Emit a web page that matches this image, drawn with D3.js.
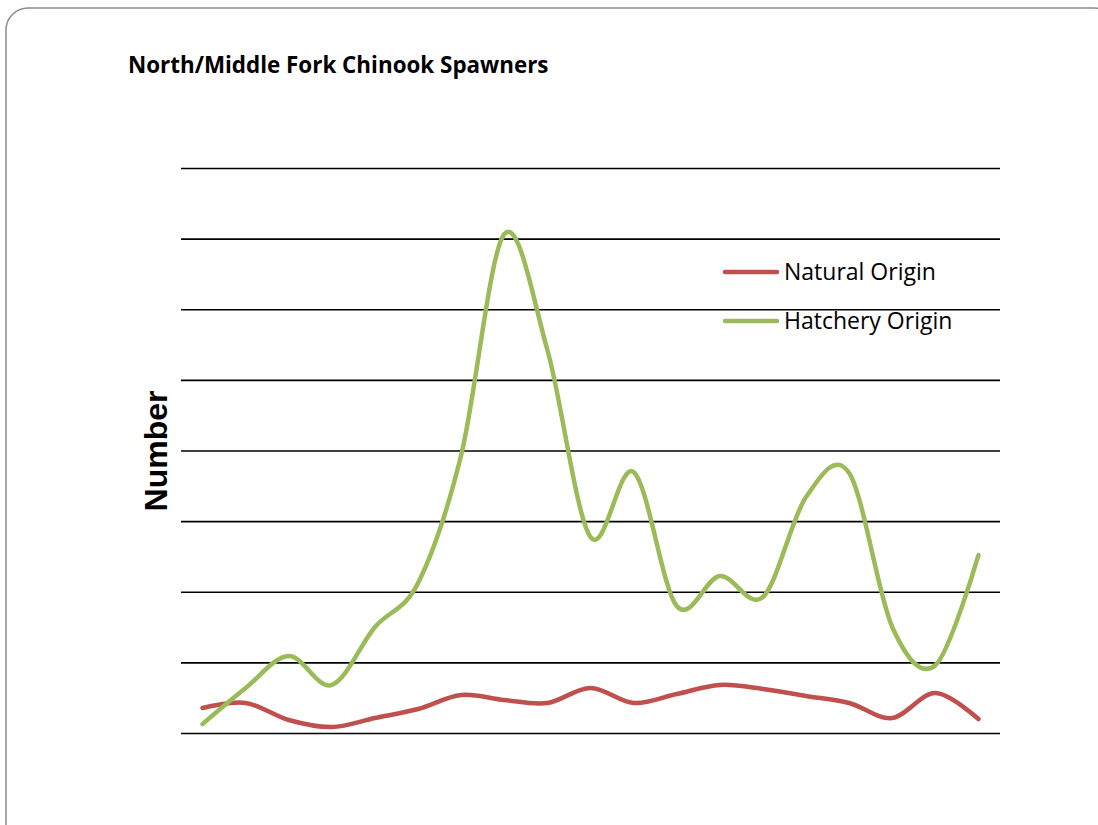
<!DOCTYPE html>
<html>
<head>
<meta charset="utf-8">
<script src="https://cdn.jsdelivr.net/npm/d3@7/dist/d3.min.js"></script>
<style>
  html, body { margin: 0; padding: 0; background: #fff; }
  svg { display: block; }
</style>
</head>
<body>
<svg id="chart" width="1098" height="825"></svg>
<script>
// ---- data (the original has no tick labels) ----
const categories = d3.range(1, 20).map(i => "P" + i);
const naturalOrigin = [354, 425, 184, 85, 212, 340, 538, 467, 425, 637, 425, 552, 680, 623, 524, 425, 212, 566, 198];
const hatcheryOrigin = [127, 637, 1090, 680, 1501, 2124, 3936, 7065, 5423, 2775, 3696, 1798, 2223, 1926, 3341, 3681, 1501, 960, 2520];
const yTicks = [0, 1000, 2000, 3000, 4000, 5000, 6000, 7000, 8000];
const seriesNames = ["Natural Origin", "Hatchery Origin"];
const seriesColors = ["#C0504D", "#9BBB59"];

const svg = d3.select("#chart");

// outer rounded frame
svg.append("rect")
  .attr("x", 6).attr("y", 8)
  .attr("width", 1110).attr("height", 840)
  .attr("rx", 22).attr("ry", 22)
  .attr("fill", "#fff")
  .attr("stroke", "#8c8c8c")
  .attr("stroke-width", 1.5);

const plot = { left: 181, right: 1000, top: 168, bottom: 733 };

const x = d3.scalePoint().domain(categories).range([plot.left, plot.right]).padding(0.5);
const y = d3.scaleLinear().domain([0, 8000]).range([plot.bottom, plot.top]);

// gridlines via axis
const yAxis = d3.axisLeft(y).tickValues(yTicks)
  .tickSize(-(plot.right - plot.left)).tickFormat("");
const gAxis = svg.append("g")
  .attr("transform", `translate(${plot.left},0)`)
  .call(yAxis);
gAxis.select(".domain").remove();
gAxis.selectAll(".tick line").attr("stroke", "#000").attr("stroke-width", 1.6);

// title
svg.append("text")
  .attr("x", 128).attr("y", 73)
  .attr("font-family", "'Open Sans', Lato, sans-serif")
  .attr("font-weight", "bold")
  .attr("font-size", 22.4)
  .attr("fill", "#000")
  .text("North/Middle Fork Chinook Spawners");

// y axis title
svg.append("text")
  .attr("transform", "translate(167,451) rotate(-90)")
  .attr("text-anchor", "middle")
  .attr("font-family", "'Liberation Sans', Arial, sans-serif")
  .attr("font-weight", "bold")
  .attr("font-size", 32)
  .attr("fill", "#000")
  .text("Number");

// lines
const line = d3.line()
  .x((d, i) => x(categories[i]))
  .y(d => y(d))
  .curve(d3.curveCardinal.tension(0));

[naturalOrigin, hatcheryOrigin].forEach((s, k) => {
  svg.append("path")
    .datum(s)
    .attr("fill", "none")
    .attr("stroke", seriesColors[k])
    .attr("stroke-width", 4.5)
    .attr("stroke-linecap", "round")
    .attr("stroke-linejoin", "round")
    .attr("d", line);
});

// legend
const legend = svg.append("g").attr("transform", "translate(723,272)");
seriesNames.forEach((name, k) => {
  const g = legend.append("g").attr("transform", `translate(0,${k * 49})`);
  g.append("line")
    .attr("x1", 2).attr("x2", 54).attr("y1", 0).attr("y2", 0)
    .attr("stroke", seriesColors[k]).attr("stroke-width", 4.5)
    .attr("stroke-linecap", "round");
  g.append("text")
    .attr("x", 61).attr("y", 8)
    .attr("font-family", "'Open Sans', Lato, sans-serif")
    .attr("font-size", 23)
    .attr("fill", "#000")
    .text(name);
});
</script>
</body>
</html>
